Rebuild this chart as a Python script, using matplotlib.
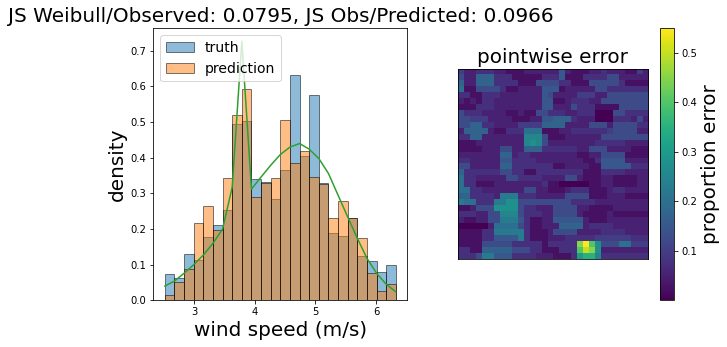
import numpy as np
import matplotlib
matplotlib.use("Agg")
import matplotlib.pyplot as plt

# histogram bins (wind speed, m/s)
bin_lo = 2.517
bin_hi = 6.325
n_bins = 24

truth_density = [0.073, 0.062, 0.129, 0.112, 0.179, 0.210, 0.252, 0.496,
                 0.504, 0.339, 0.331, 0.284, 0.367, 0.633, 0.406, 0.577,
                 0.328, 0.190, 0.180, 0.232, 0.124, 0.111, 0.080, 0.098]
pred_density = [0.014, 0.050, 0.087, 0.216, 0.266, 0.198, 0.342, 0.521,
                0.594, 0.291, 0.328, 0.342, 0.507, 0.384, 0.420, 0.347,
                0.326, 0.230, 0.280, 0.231, 0.174, 0.076, 0.025, 0.045]
# fitted curve, evaluated at the bin edges
fit_density = [0.040, 0.054, 0.076, 0.100, 0.127, 0.160, 0.200, 0.318,
               0.727, 0.312, 0.346, 0.379, 0.409, 0.430, 0.440, 0.424,
               0.398, 0.356, 0.295, 0.234, 0.174, 0.118, 0.076, 0.045,
               0.024]

js_weibull = 0.0795
js_pred = 0.0966

# pointwise error grid, one char per cell, value = int(c, 36) / 40
error_rows = [
    "42233322111222222621112232221142",
    "52277733311111333611133335522222",
    "72277733331115555331115555531111",
    "81155553112222666122222553333333",
    "33113332222222652222444225555555",
    "21213322222222661123332255555555",
    "11133322222222662225333111155555",
    "53332222112115533322333000553333",
    "55444222211122667773222000333252",
    "55773322224444777722225552555533",
    "27777211333888111223333334555522",
    "33772222222aaa511122222255555555",
    "11122222222aba522222222333332222",
    "11112225522777333333225552222111",
    "22222227723322222222112255551111",
    "33222226633332222222211366662222",
    "55222227733333331122221166666333",
    "73333335533113333333311133332222",
    "83322222553333222255211122111122",
    "83311122222222311000001122111122",
    "88332222222552211123331112332222",
    "77333329993332222255551112221111",
    "98833399bb5555555553333222222222",
    "112555bbbb5332225555221111222222",
    "3332255aaa5333225555211112111111",
    "21122559996311226666621112222222",
    "00000288885311222777723333222222",
    "11113399999311125555222233332222",
    "11113366669311122233333444444333",
    "11115555533333133333imgb55588444",
    "33117777755533111333gkib22222222",
    "33359966633332221113ceea33333333",
]

errors = np.array([[int(c, 36) / 40 for c in row] for row in error_rows])

edges = np.linspace(bin_lo, bin_hi, n_bins + 1)
centers = (edges[:-1] + edges[1:]) / 2

fig = plt.figure(figsize=(727 / 72, 347 / 72), dpi=72)

ax1 = fig.add_axes([0.2109, 0.1346, 0.3494, 0.7839])
ax1.hist(centers, bins=edges, weights=truth_density, alpha=0.5,
         edgecolor="black", label="truth")
ax1.hist(centers, bins=edges, weights=pred_density, alpha=0.5,
         edgecolor="black", label="prediction")
ax1.plot(edges, fit_density, color="tab:green")
ax1.set_xlabel("wind speed (m/s)", fontsize=20)
ax1.set_ylabel("density", fontsize=20)
ax1.set_title(f"JS Weibull/Observed: {js_weibull}, JS Obs/Predicted: {js_pred}",
              fontsize=20)
ax1.legend(loc="upper left", fontsize=14)

ax2 = fig.add_axes([0.6290, 0.2527, 0.2633, 0.5484])
im = ax2.imshow(errors, cmap="viridis", vmin=0.0, vmax=0.55,
                interpolation="nearest")
ax2.set_xticks([])
ax2.set_yticks([])
ax2.set_title("pointwise error", fontsize=20)

cax = fig.add_axes([0.9078, 0.1354, 0.0193, 0.783])
cb = fig.colorbar(im, cax=cax, ticks=[0.1, 0.2, 0.3, 0.4, 0.5])
cb.set_label("proportion error", fontsize=20)

fig.savefig("out.png", dpi=72)
